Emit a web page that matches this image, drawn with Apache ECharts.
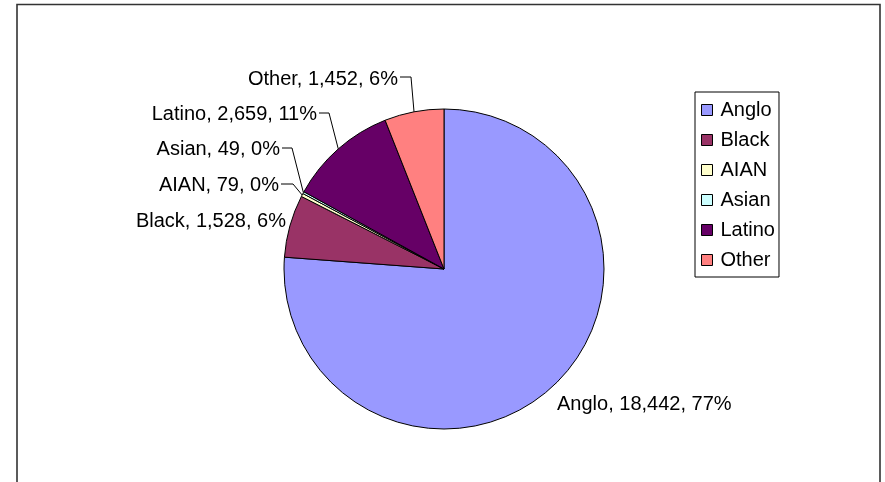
<!DOCTYPE html>
<html>
<head>
<meta charset="utf-8">
<title>Population by group</title>
<script src="https://cdn.jsdelivr.net/npm/echarts@6/dist/echarts.min.js"></script>
<style>
  html, body { margin: 0; padding: 0; background: #fff; }
  #chart { width: 885px; height: 482px; }
</style>
</head>
<body>
<div id="chart"></div>
<script>
// Group names, counts and the rounded shares printed in the labels
const groups = ['Anglo', 'Black', 'AIAN', 'Asian', 'Latino', 'Other'];
const counts = [18442, 1528, 79, 49, 2659, 1452];
const shareLabels = ['77%', '6%', '0%', '0%', '11%', '6%'];
const sliceColors = ['#9999FF', '#993366', '#FFFFCC', '#CCFFFF', '#660066', '#FF8080'];

const FONT = '"Liberation Sans", Arial, sans-serif';

// Where each label sits (text edge x, text middle y) and, for the leader
// lines, the height of the short horizontal run and where it bends.
const labelPlacement = [
  { x: 557, y: 404, align: 'left' },
  { x: 286, y: 221, align: 'right' },
  { x: 279, y: 185, align: 'right', lineY: 184, bendX: 293 },
  { x: 280, y: 149, align: 'right', lineY: 148, bendX: 292 },
  { x: 317, y: 114, align: 'right', lineY: 113, bendX: 329 },
  { x: 398, y: 79,  align: 'right', lineY: 77,  bendX: 411 }
];

const chart = echarts.init(document.getElementById('chart'), null, { renderer: 'canvas' });

const seriesData = groups.map((name, i) => ({
  name: name,
  value: counts[i],
  itemStyle: { color: sliceColors[i] },
  labelLine: { show: labelPlacement[i].bendX != null }
}));

chart.setOption({
  animation: false,
  backgroundColor: '#ffffff',
  graphic: [{
    type: 'rect',
    silent: true,
    shape: { x: 17, y: 4.5, width: 863, height: 500 },
    style: { fill: 'none', stroke: '#333', lineWidth: 1.6 }
  }],
  legend: {
    orient: 'vertical',
    left: 695,
    top: 92,
    data: groups,
    selectedMode: false,
    icon: 'rect',
    itemWidth: 11,
    itemHeight: 11,
    itemGap: 10,
    padding: [8, 4, 7, 6],
    borderColor: '#000',
    borderWidth: 1,
    backgroundColor: '#fff',
    itemStyle: { borderColor: '#000', borderWidth: 1 },
    textStyle: {
      color: '#000',
      fontFamily: FONT,
      fontSize: 20,
      lineHeight: 20,
      padding: [0, 0, 0, 3]
    }
  },
  series: [{
    type: 'pie',
    center: [444, 269],
    radius: 160,
    startAngle: 90,
    clockwise: true,
    avoidLabelOverlap: false,
    data: seriesData,
    itemStyle: { borderColor: '#000', borderWidth: 1 },
    emphasis: { disabled: true },
    label: {
      show: true,
      position: 'outside',
      color: '#000',
      fontFamily: FONT,
      fontSize: 20,
      formatter: (p) => p.name + ', ' + p.value.toLocaleString('en-US') + ', ' + shareLabels[p.dataIndex]
    },
    labelLine: {
      show: true,
      lineStyle: { color: '#000', width: 1 }
    },
    labelLayout: function (params) {
      const a = labelPlacement[params.dataIndex];
      const out = { x: a.x, y: a.y, align: a.align, verticalAlign: 'middle' };
      if (a.bendX != null && params.labelLinePoints && params.labelLinePoints.length) {
        const edge = params.labelLinePoints[0];
        out.labelLinePoints = [edge, [a.bendX, a.lineY], [a.x + 2, a.lineY]];
      }
      return out;
    }
  }]
});
</script>
</body>
</html>
